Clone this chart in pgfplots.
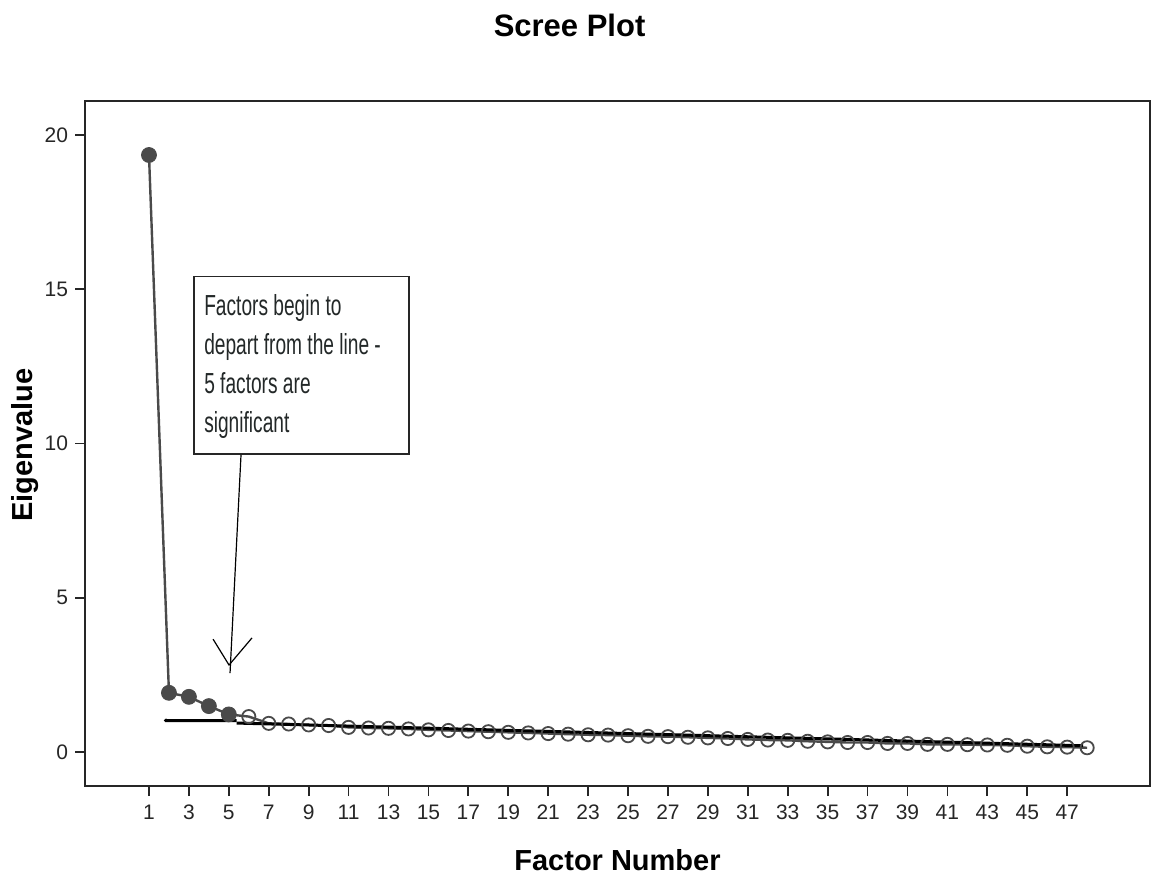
\documentclass[border=0pt]{standalone}
\usepackage{fontspec}
\setmainfont{Liberation Sans}
\usepackage{pgfplots}
\pgfplotsset{compat=1.18}
\usepackage{graphicx}

\definecolor{ptgray}{HTML}{4A4A4A}
\definecolor{notecol}{HTML}{232828}

\begin{document}
\begin{tikzpicture}
\begin{axis}[
    scale only axis,
    width=532.5pt,
    height=342.5pt,
    xmin=-2.206, xmax=51.15,
    ymin=-1.10, ymax=21.10,
    xtick={1,3,...,47},
    ytick={0,5,10,15,20},
    tick align=outside,
    major tick length=5pt,
    xtick pos=bottom,
    ytick pos=left,
    axis line style={line width=0.9pt, black!85},
    every tick/.style={line width=0.9pt, black!85},
    tick label style={font=\fontsize{10.5}{12}\selectfont, black!85},
    xticklabel style={text height=1.6ex, text depth=0pt},
    /pgf/number format/assume math mode=true,
    title={Scree Plot},
    title style={font=\fontsize{15.5}{18}\selectfont\bfseries, at={(axis description cs:0.455,1.111)}, anchor=center, yshift=0pt},
    every axis title shift=0pt,
    xlabel={Factor Number},
    xlabel style={font=\fontsize{14.5}{17}\selectfont\bfseries, at={(axis description cs:0.5,-0.108)}, anchor=center},
    ylabel={Eigenvalue},
    ylabel style={font=\fontsize{14.5}{17}\selectfont\bfseries, at={(axis description cs:-0.0563,0.498)}, anchor=center},
]

% eigenvalues, connecting line
\addplot[ptgray, line width=1.2pt, no markers] coordinates {
    (1,19.35) (2,1.92) (3,1.79) (4,1.49) (5,1.22) (6,1.15) (7,0.93) (8,0.91)
    (9,0.88) (10,0.86) (11,0.80) (12,0.78) (13,0.77) (14,0.75) (15,0.72)
    (16,0.70) (17,0.68) (18,0.66) (19,0.64) (20,0.62) (21,0.60) (22,0.58)
    (23,0.56) (24,0.55) (25,0.53) (26,0.51) (27,0.50) (28,0.48) (29,0.46)
    (30,0.44) (31,0.41) (32,0.39) (33,0.38) (34,0.35) (35,0.33) (36,0.31)
    (37,0.31) (38,0.28) (39,0.28) (40,0.25) (41,0.25) (42,0.24) (43,0.23)
    (44,0.22) (45,0.19) (46,0.17) (47,0.16) (48,0.14)
};

% open circles (factors 6-48)
\addplot[only marks, mark=o, mark size=3.3pt, mark options={draw=ptgray, line width=0.9pt, fill=none}] coordinates {
    (6,1.15) (7,0.93) (8,0.91)
    (9,0.88) (10,0.86) (11,0.80) (12,0.78) (13,0.77) (14,0.75) (15,0.72)
    (16,0.70) (17,0.68) (18,0.66) (19,0.64) (20,0.62) (21,0.60) (22,0.58)
    (23,0.56) (24,0.55) (25,0.53) (26,0.51) (27,0.50) (28,0.48) (29,0.46)
    (30,0.44) (31,0.41) (32,0.39) (33,0.38) (34,0.35) (35,0.33) (36,0.31)
    (37,0.31) (38,0.28) (39,0.28) (40,0.25) (41,0.25) (42,0.24) (43,0.23)
    (44,0.22) (45,0.19) (46,0.17) (47,0.16) (48,0.14)
};

% hand-drawn reference line
\addplot[black, line width=1.5pt, no markers] coordinates {
    (1.8,1.06) (1.85,1.02) (5.39,1.02)
};
\addplot[black, line width=1.5pt, no markers] coordinates {
    (5.39,0.94) (47.8,0.205)
};

% filled circles (factors 1-5)
\addplot[only marks, mark=*, mark size=3.75pt, mark options={draw=ptgray, fill=ptgray}] coordinates {
    (1,19.35) (2,1.92) (3,1.79) (4,1.49) (5,1.22)
};

% annotation
\draw[black!85, line width=0.8pt, fill=white] (axis cs:3.25,15.41) rectangle (axis cs:14.03,9.66);
\node[anchor=north west, align=left, inner sep=0pt, text=notecol,
      font=\fontsize{14.5}{19.5}\selectfont] at (axis cs:3.75,14.85)
    {\scalebox{0.66}[1]{Factors begin to}\\
     \scalebox{0.66}[1]{depart from the line -}\\
     \scalebox{0.66}[1]{5 factors are}\\
     \scalebox{0.66}[1]{significant}};
\draw[black, line width=0.6pt] (axis cs:5.61,9.63) -- (axis cs:5.06,2.56);
\draw[black, line width=0.6pt] (axis cs:4.21,3.66) -- (axis cs:5.01,2.82) -- (axis cs:6.16,3.70);

\end{axis}
\pgfresetboundingbox
\path[use as bounding box] (-42.5pt,-44.5pt) rectangle (533pt,393pt);
\end{tikzpicture}
\end{document}
